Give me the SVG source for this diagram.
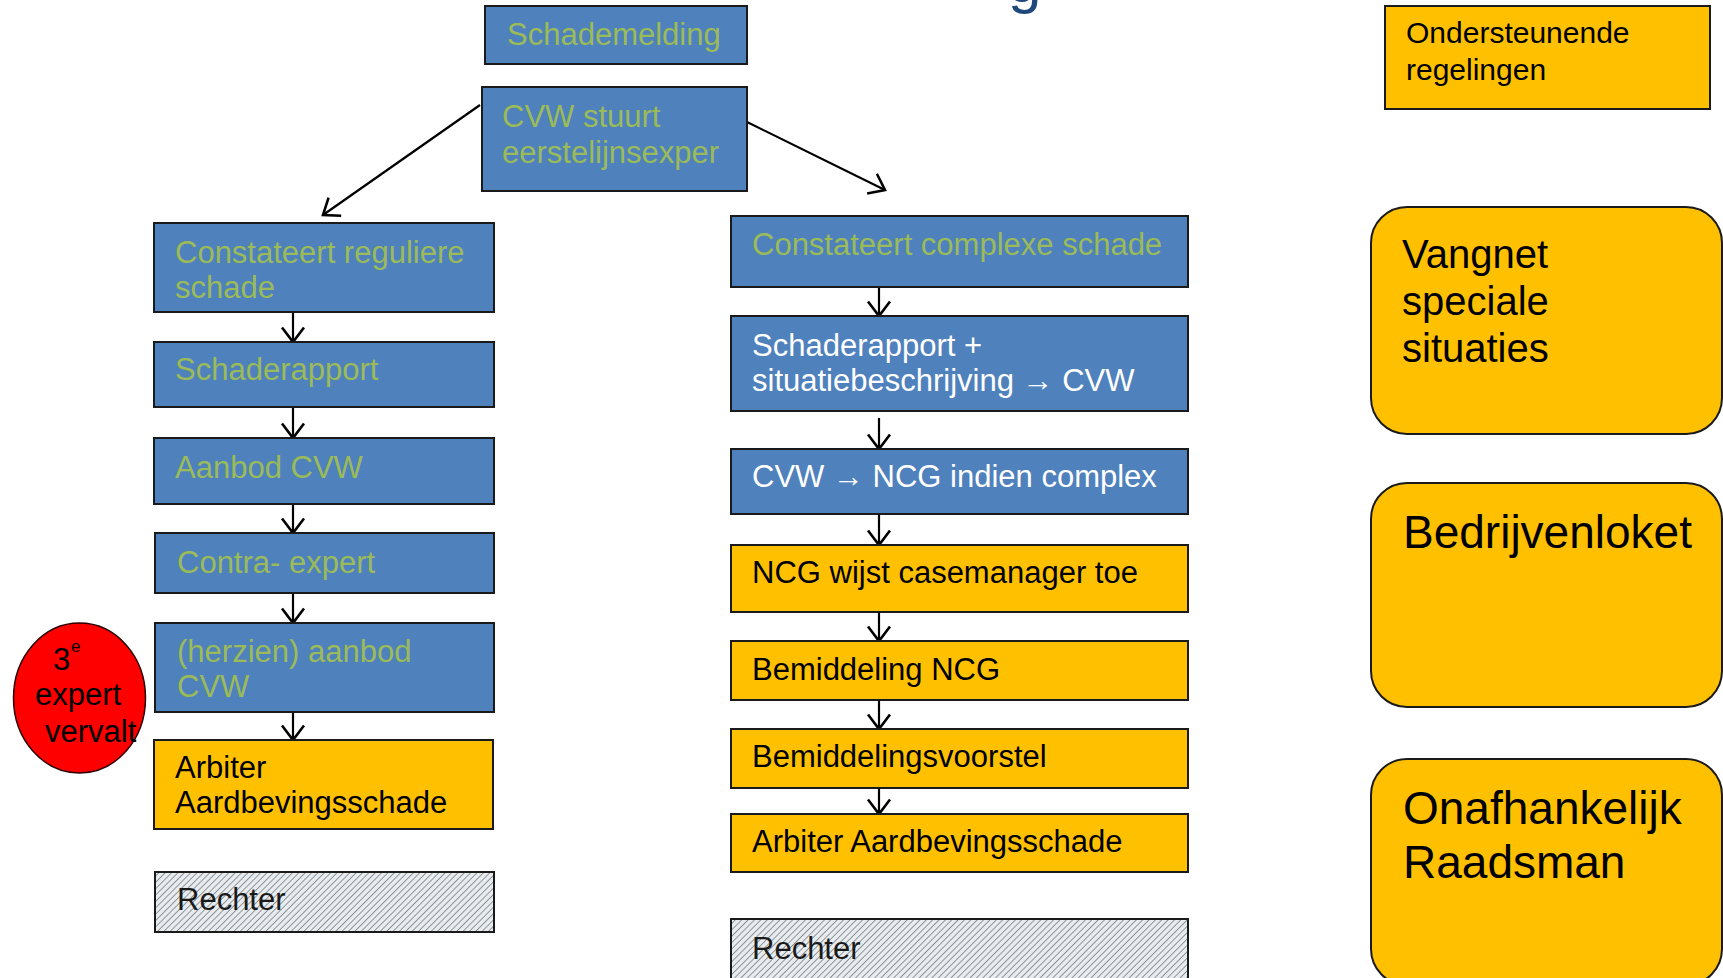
<svg xmlns="http://www.w3.org/2000/svg" width="1723" height="978" viewBox="0 0 1723 978">
<defs>
<style>
text{font-family:"Liberation Sans",Arial,sans-serif;}
.blue{fill:#4F81BD;stroke:#1a1a1a;stroke-width:2;}
.orange{fill:#FFC000;stroke:#1a1a1a;stroke-width:2;}
.hatch{fill:url(#hatch);stroke:#1a1a1a;stroke-width:2;}
.g{fill:#9BBB59;font-size:31px;}
.w{fill:#FFFFFF;font-size:31px;}
.k{fill:#000000;font-size:31px;}
.conn line{stroke:#000;stroke-width:2.2;fill:none;marker-end:url(#arr);}
</style>
<marker id="arr" markerUnits="userSpaceOnUse" markerWidth="20" markerHeight="26" viewBox="0 0 20 26" refX="16" refY="13" orient="auto">
<path d="M1.5,2 L16,13 L1.5,24" fill="none" stroke="#000" stroke-width="2.6"/>
</marker>
<pattern id="hatch" patternUnits="userSpaceOnUse" width="4.5" height="4.5" patternTransform="rotate(45)">
<rect width="4.5" height="4.5" fill="#E6ECEF"/>
<line x1="0" y1="0" x2="0" y2="4.5" stroke="#808080" stroke-width="1.6"/>
</pattern>
</defs>
<rect width="1723" height="978" fill="#FFFFFF"/>
<text x="1008" y="2" style="font-size:60px;fill:#1F497D;">g</text>

<g class="conn">
<line x1="480" y1="105" x2="323" y2="215"/>
<line x1="747" y1="122" x2="885" y2="190"/>
<line x1="293" y1="312" x2="293" y2="342"/>
<line x1="293" y1="407" x2="293" y2="438"/>
<line x1="293" y1="504" x2="293" y2="533"/>
<line x1="293" y1="593" x2="293" y2="623"/>
<line x1="293" y1="712" x2="293" y2="740"/>
<line x1="879" y1="287" x2="879" y2="316"/>
<line x1="879" y1="418" x2="879" y2="449"/>
<line x1="879" y1="514" x2="879" y2="545"/>
<line x1="879" y1="612" x2="879" y2="641"/>
<line x1="879" y1="700" x2="879" y2="729"/>
<line x1="879" y1="788" x2="879" y2="814"/>
</g>

<g id="schademelding"><rect class="blue" x="485" y="6" width="262" height="58"/><text class="g" x="507" y="45">Schademelding</text></g>
<g id="cvw-stuurt"><rect class="blue" x="482" y="87" width="265" height="104"/><text class="g" x="502" y="127">CVW stuurt</text><text class="g" x="502" y="163">eerstelijnsexper</text></g>

<g id="regulier"><rect class="blue" x="154" y="223" width="340" height="89"/><text class="g" x="175" y="263">Constateert reguliere</text><text class="g" x="175" y="298">schade</text></g>
<g id="schaderapport-l"><rect class="blue" x="154" y="342" width="340" height="65"/><text class="g" x="175" y="380">Schaderapport</text></g>
<g id="aanbod"><rect class="blue" x="154" y="438" width="340" height="66"/><text class="g" x="175" y="478">Aanbod CVW</text></g>
<g id="contra"><rect class="blue" x="155" y="533" width="339" height="60"/><text class="g" x="177" y="573">Contra- expert</text></g>
<g id="herzien"><rect class="blue" x="155" y="623" width="339" height="89"/><text class="g" x="177" y="662">(herzien) aanbod</text><text class="g" x="177" y="697">CVW</text></g>
<g id="arbiter-l"><rect class="orange" x="154" y="740" width="339" height="89"/><text class="k" x="175" y="778">Arbiter</text><text class="k" x="175" y="813">Aardbevingsschade</text></g>
<g id="rechter-l"><rect class="hatch" x="155" y="872" width="339" height="60"/><text class="k" x="177" y="910" style="fill:#1a1a1a">Rechter</text></g>

<g id="derde-expert"><ellipse cx="79.5" cy="698" rx="66" ry="75" fill="#FF0000" stroke="#2a0000" stroke-width="1.5"/><text class="k" x="53" y="670">3</text><text x="71" y="652" style="font-size:17px;fill:#000">e</text><text class="k" x="35" y="705">expert</text><text class="k" x="45" y="742">vervalt</text></g>

<g id="complex"><rect class="blue" x="731" y="216" width="457" height="71"/><text class="g" x="752" y="255">Constateert complexe schade</text></g>
<g id="schaderapport-r"><rect class="blue" x="731" y="316" width="457" height="95"/><text class="w" x="752" y="356">Schaderapport +</text><text class="w" x="752" y="391">situatiebeschrijving → CVW</text></g>
<g id="cvw-ncg"><rect class="blue" x="731" y="449" width="457" height="65"/><text class="w" x="752" y="487">CVW → NCG indien complex</text></g>
<g id="casemanager"><rect class="orange" x="731" y="545" width="457" height="67"/><text class="k" x="752" y="583">NCG wijst casemanager toe</text></g>
<g id="bemiddeling"><rect class="orange" x="731" y="641" width="457" height="59"/><text class="k" x="752" y="680">Bemiddeling NCG</text></g>
<g id="voorstel"><rect class="orange" x="731" y="729" width="457" height="59"/><text class="k" x="752" y="767">Bemiddelingsvoorstel</text></g>
<g id="arbiter-r"><rect class="orange" x="731" y="814" width="457" height="58"/><text class="k" x="752" y="852">Arbiter Aardbevingsschade</text></g>
<g id="rechter-r"><rect class="hatch" x="731" y="919" width="457" height="70"/><text class="k" x="752" y="959" style="fill:#1a1a1a">Rechter</text></g>

<g id="ondersteunende"><rect class="orange" x="1385" y="6" width="325" height="103"/><text x="1406" y="43" style="font-size:30px;fill:#000">Ondersteunende</text><text x="1406" y="80" style="font-size:30px;fill:#000">regelingen</text></g>
<g id="vangnet"><rect class="orange" x="1371" y="207" width="351" height="227" rx="36" ry="36"/><text x="1402" y="268" style="font-size:40px;fill:#000">Vangnet</text><text x="1402" y="315" style="font-size:40px;fill:#000">speciale</text><text x="1402" y="362" style="font-size:40px;fill:#000">situaties</text></g>
<g id="bedrijvenloket"><rect class="orange" x="1371" y="483" width="351" height="224" rx="36" ry="36"/><text x="1403" y="548" style="font-size:46px;fill:#000">Bedrijvenloket</text></g>
<g id="raadsman"><rect class="orange" x="1371" y="759" width="351" height="226" rx="36" ry="36"/><text x="1403" y="824" style="font-size:46px;fill:#000">Onafhankelijk</text><text x="1403" y="878" style="font-size:46px;fill:#000">Raadsman</text></g>
</svg>
